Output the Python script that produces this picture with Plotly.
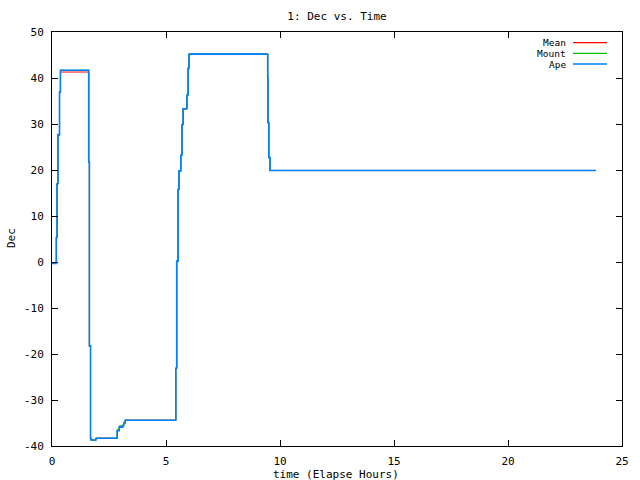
import plotly.graph_objects as go

# Elapsed time (hours) at each step
time_h = [0.0, 0.19, 0.22, 0.26, 0.33, 0.37, 1.61, 1.64, 1.69, 1.71, 1.88, 1.93,
          2.86, 2.95, 3.10, 3.15, 3.21, 5.43, 5.47, 5.53, 5.57, 5.65, 5.70, 5.75,
          5.92, 5.97, 6.01, 9.46, 9.47, 9.51, 9.56, 23.86]
ape = [-0.3, 5.3, 17.0, 27.7, 37.0, 41.7, 21.8, -18.2, -38.3, -38.7, -38.7, -38.3,
       -36.7, -35.9, -35.6, -35.0, -34.4, -23.1, 0.2, 15.8, 19.8, 23.2, 29.9, 33.3,
       36.3, 42.1, 45.2, 40.1, 30.3, 22.7, 19.9, 19.9]
mount = [-0.3, 5.3, 17.0, 27.7, 37.0, 41.7, 21.8, -18.2, -38.3, -38.7, -38.7, -38.3,
         -36.4, -35.6, -35.4, -34.8, -34.4, -23.1, 0.2, 15.8, 19.8, 23.2, 29.9, 33.3,
         36.3, 42.1, 45.2, 40.1, 30.3, 22.7, 19.9, 19.9]
mean = [-0.3, 5.3, 17.0, 27.5, 36.8, 41.3, 21.6, -18.4, -38.3, -38.7, -38.7, -38.3,
        -36.6, -35.8, -35.5, -34.9, -34.4, -23.1, 0.2, 15.8, 19.8, 23.2, 29.9, 33.3,
        36.3, 42.1, 45.2, 40.1, 30.3, 22.7, 19.9, 19.9]

series_names = ["Mean", "Mount", "Ape"]
series_vals = [mean, mount, ape]
series_colors = ["#ff0000", "#00c000", "#0080ff"]
series_widths = [1.0, 1.0, 1.6]

x_ticks = [0, 5, 10, 15, 20, 25]
y_ticks = [-40, -30, -20, -10, 0, 10, 20, 30, 40, 50]

FONT = "DejaVu Sans Mono"
FS = 11
FS_LEG = 9.5

W, H = 640, 480
L, R, T, B = 52, 18, 32, 34
PW, PH = W - L - R, H - T - B


def px_x(x):
    return (x - L) / PW


def px_y(y):
    return (H - B - y) / PH


fig = go.Figure()
for name, vals, col, w in zip(series_names, series_vals, series_colors, series_widths):
    fig.add_trace(go.Scatter(x=time_h, y=vals, mode="lines", name=name,
                             line=dict(color=col, width=w, shape="hv"),
                             showlegend=False))

axis_common = dict(showgrid=False, zeroline=False, showline=True, linecolor="black",
                   linewidth=1, mirror="ticks", ticks="inside", ticklen=6,
                   tickcolor="black", tickwidth=1, automargin=False,
                   tickfont=dict(family=FONT, size=FS, color="black"))

fig.update_xaxes(range=[0, 25], tickvals=x_ticks, ticktext=[str(v) for v in x_ticks],
                 ticklabelstandoff=5, **axis_common)
fig.update_yaxes(range=[-40, 50], tickvals=y_ticks, ticktext=[str(v) for v in y_ticks],
                 ticklabelstandoff=5, **axis_common)

# axis titles
fig.add_annotation(xref="paper", yref="paper", x=px_x(336), y=px_y(474),
                   text="time (Elapse Hours)",
                   showarrow=False, xanchor="center", yanchor="middle",
                   font=dict(family=FONT, size=FS, color="black"))
fig.add_annotation(xref="paper", yref="paper", x=px_x(11), y=px_y(238), text="Dec",
                   textangle=-90,
                   showarrow=False, xanchor="center", yanchor="middle",
                   font=dict(family=FONT, size=FS, color="black"))

# custom gnuplot-style legend (text right, sample line at right)
leg_y = [42.7, 53.3, 64.0]
for name, col, yy in zip(series_names, series_colors, leg_y):
    fig.add_annotation(xref="paper", yref="paper", x=px_x(567), y=px_y(yy), text=name,
                       showarrow=False, xanchor="right", yanchor="middle",
                       borderpad=0,
                       font=dict(family=FONT, size=FS_LEG, color="black"))
    fig.add_shape(type="line", xref="paper", yref="paper", x0=px_x(573), x1=px_x(607),
                  y0=px_y(yy), y1=px_y(yy), line=dict(color=col, width=1.3))

fig.update_layout(
    width=W, height=H,
    margin=dict(l=L, r=R, t=T, b=B),
    paper_bgcolor="white", plot_bgcolor="white",
    title=dict(text="1: Dec vs. Time", x=337 / W, xanchor="center",
               yref="container", y=1 - 16 / H, yanchor="middle",
               font=dict(family=FONT, size=FS, color="black")),
)

fig.write_html("out.html", config={"displayModeBar": False},
               post_script="document.body.style.margin='0';document.body.style.overflow='hidden';")
